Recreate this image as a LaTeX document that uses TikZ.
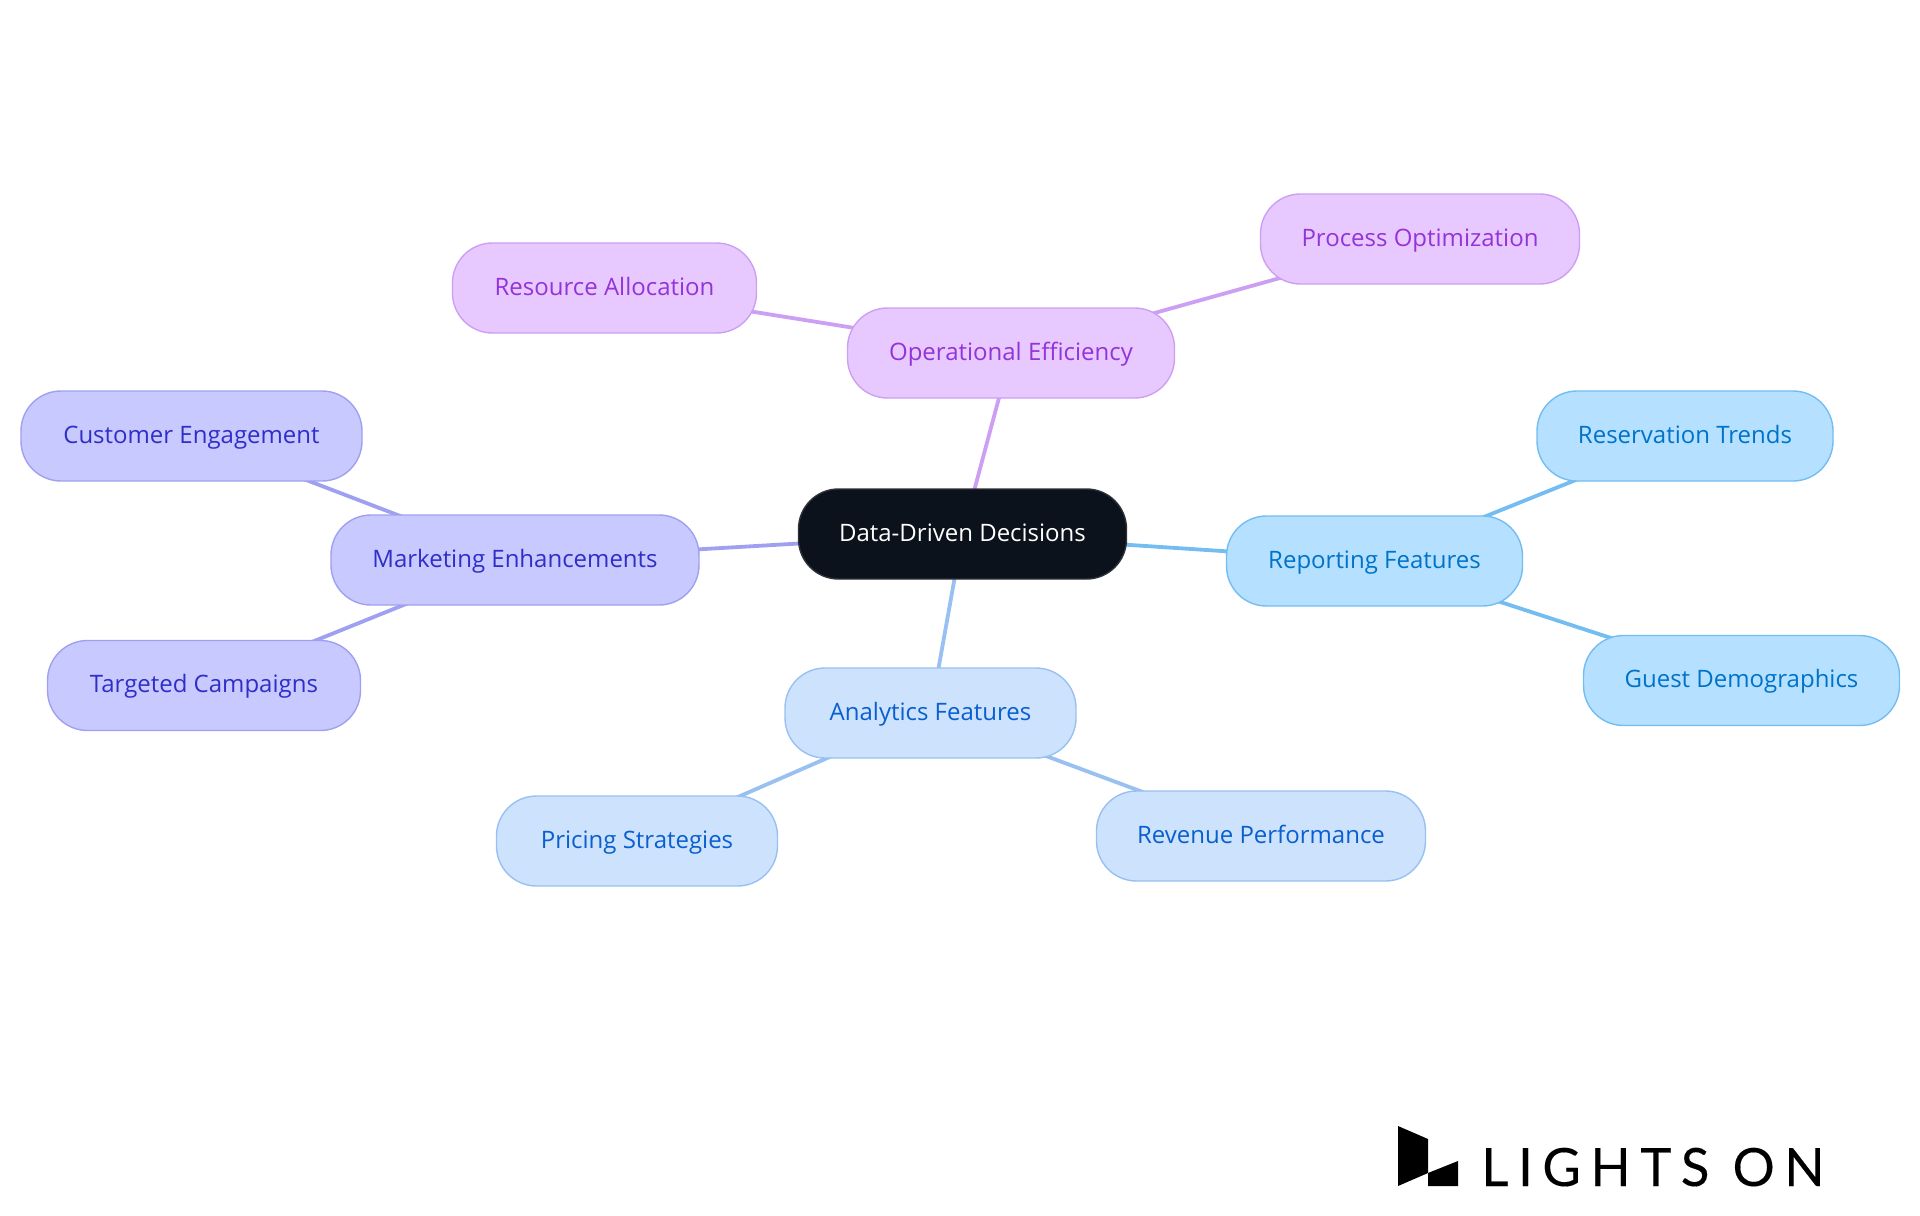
\documentclass[tikz,border=0pt]{standalone}
\usepackage{fontspec}
\usetikzlibrary{backgrounds}
\setmainfont{Open Sans}
\newfontfamily\logofont[LetterSpace=18,FakeBold=0.2]{Lato}
\definecolor{rootfill}{HTML}{0B121B}
\definecolor{rootline}{HTML}{2D3238}
\definecolor{opfill}{HTML}{E8C9FF}
\definecolor{opline}{HTML}{CC9FF2}
\definecolor{optext}{HTML}{9333D8}
\definecolor{mkfill}{HTML}{C8C9FE}
\definecolor{mkline}{HTML}{9FA0F0}
\definecolor{mktext}{HTML}{2F2FC8}
\definecolor{anfill}{HTML}{CDE2FD}
\definecolor{anline}{HTML}{98C0F0}
\definecolor{antext}{HTML}{0A5FCF}
\definecolor{rpfill}{HTML}{B5E0FF}
\definecolor{rpline}{HTML}{74BDF0}
\definecolor{rptext}{HTML}{0073C9}
\tikzset{
	pill/.style={draw,rectangle,rounded corners=20pt,line width=0.7pt,inner sep=0pt,minimum height=45pt,text height=9pt,text depth=2pt,font=\fontsize{12}{14}\selectfont},
	rootpill/.style={pill,fill=rootfill,draw=rootline,text=white},
	oppill/.style={pill,fill=opfill,draw=opline,text=optext},
	mkpill/.style={pill,fill=mkfill,draw=mkline,text=mktext},
	anpill/.style={pill,fill=anfill,draw=anline,text=antext},
	rppill/.style={pill,fill=rpfill,draw=rpline,text=rptext},
	link/.style={line width=1.9pt}
}
\begin{document}
\begin{tikzpicture}[x=0.5pt,y=-0.5pt]
	\useasboundingbox (0,0) rectangle (1920,1215);
	\node[rootpill,minimum width=164pt] (root) at (962.5,534) {Data-Driven Decisions};
	\node[oppill,minimum width=163.5pt] (opeff) at (1011,353) {Operational Efficiency};
	\node[oppill,minimum width=159.5pt] (procopt) at (1420,239) {Process Optimization};
	\node[oppill,minimum width=152pt] (resalloc) at (604.5,288) {Resource Allocation};
	\node[mkpill,minimum width=184pt] (market) at (515,560) {Marketing Enhancements};
	\node[mkpill,minimum width=170.5pt] (custeng) at (191.5,436) {Customer Engagement};
	\node[mkpill,minimum width=156.5pt] (targcamp) at (204,685.5) {Targeted Campaigns};
	\node[anpill,minimum width=145.5pt] (analytics) at (930.5,713) {Analytics Features};
	\node[anpill,minimum width=140.5pt] (pricing) at (637,841) {Pricing Strategies};
	\node[anpill,minimum width=164.5pt] (revenue) at (1261,836) {Revenue Performance};
	\node[rppill,minimum width=148pt] (report) at (1374.5,561) {Reporting Features};
	\node[rppill,minimum width=148pt] (resv) at (1685,436) {Reservation Trends};
	\node[rppill,minimum width=158pt] (guest) at (1741.5,680.5) {Guest Demographics};
	% links
	\begin{pgfonlayer}{background}
	\draw[link,opline] (root.center) -- (opeff.center);
	\draw[link,opline] (opeff.center) -- (procopt.center);
	\draw[link,opline] (opeff.center) -- (resalloc.center);
	\draw[link,mkline] (root.center) -- (market.center);
	\draw[link,mkline] (market.center) -- (custeng.center);
	\draw[link,mkline] (market.center) -- (targcamp.center);
	\draw[link,anline] (root.center) -- (analytics.center);
	\draw[link,anline] (analytics.center) -- (pricing.center);
	\draw[link,anline] (analytics.center) -- (revenue.center);
	\draw[link,rpline] (root.center) -- (report.center);
	\draw[link,rpline] (report.center) -- (resv.center);
	\draw[link,rpline] (report.center) -- (guest.center);
	\end{pgfonlayer}
	% logo
	\fill[black] (1398,1126) -- (1428,1139) -- (1428,1173) -- (1398,1186) -- cycle;
	\fill[black] (1428,1173) -- (1458,1161) -- (1458,1186) -- (1428,1186) -- cycle;
	\node[anchor=base west,inner sep=0pt,text=black,font=\logofont\fontsize{26.4}{30}\selectfont] (logo) at (1481,1186) {LIGHTS ON};
\end{tikzpicture}
\end{document}
